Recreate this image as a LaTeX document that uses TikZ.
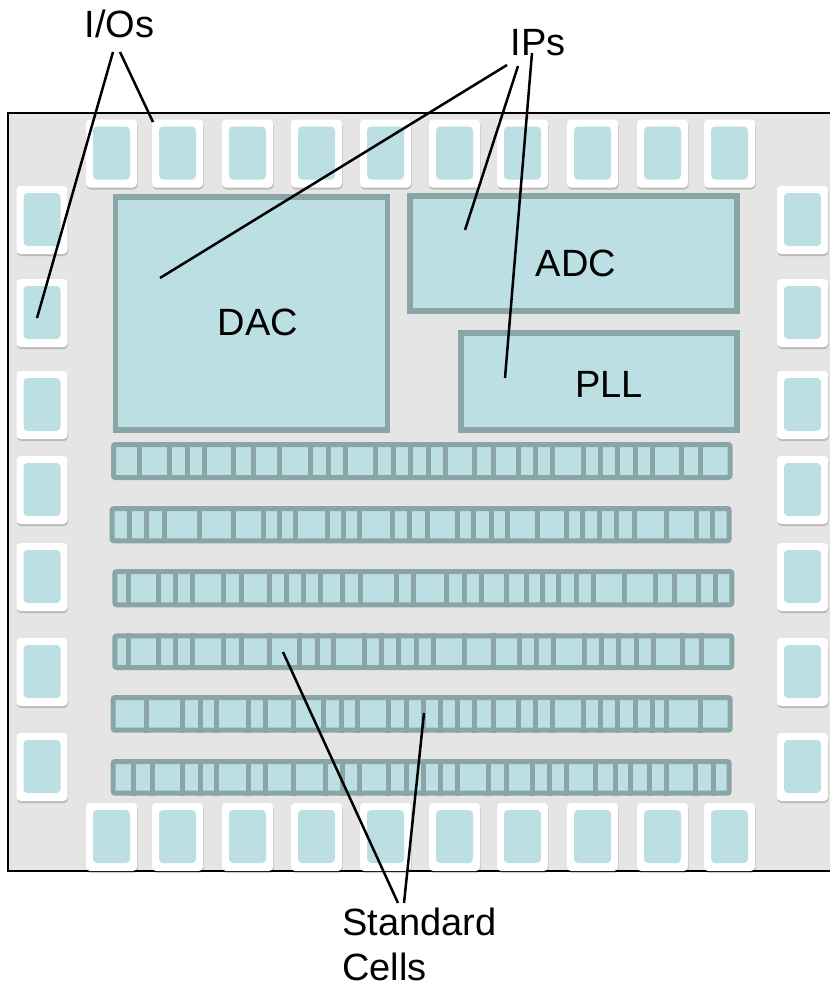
\documentclass[tikz,border=0pt]{standalone}
\usepackage{fontspec}
\setmainfont{Liberation Sans}
\usetikzlibrary{shadows}
\definecolor{chipgray}{HTML}{E5E5E5}
\definecolor{cellfill}{HTML}{BBDFE2}
\definecolor{celledge}{HTML}{8AA5A6}
\tikzset{
  padbox/.style={rectangle, rounded corners=4pt, fill=white, minimum width=51pt, minimum height=68pt, inner sep=0pt,
    drop shadow={shadow xshift=0.5pt, shadow yshift=-2pt, opacity=0.18, fill=black},
    path picture={\fill[cellfill] ([xshift=7pt,yshift=-7pt]path picture bounding box.north west) rectangle ([xshift=-7pt,yshift=8pt]path picture bounding box.south east);}},
  macrobox/.style={rectangle, fill=cellfill, draw=celledge, line width=5.5pt, inner sep=0pt},
  rowbox/.style={rectangle, rounded corners=2pt, fill=cellfill, draw=celledge, line width=5pt, inner sep=0pt},
  leader/.style={draw=black, line width=2.5pt},
  bigtext/.style={font=\fontsize{38}{45}\selectfont, inner sep=0pt, text=black},
}
\newcommand\stdrow[6]{%
  \pgfmathsetmacro\rw{#4-#2-5}\pgfmathsetmacro\rh{#5-#3-5}%
  \pgfmathsetmacro\rcx{(#2+#4)/2}\pgfmathsetmacro\rcy{(#3+#5)/2}%
  \node[rowbox, minimum width=\rw pt, minimum height=\rh pt] (#1) at (\rcx,\rcy) {};
  \foreach \d in {#6} {\fill[celledge] (\d-2.5,#3) rectangle (\d+2.5,#5);}
}
\begin{document}
\begin{tikzpicture}[x=1pt,y=-1pt]
\useasboundingbox (0,0) rectangle (830,994);
\clip (0,0) rectangle (830,994);
\fill[white] (0,0) rectangle (830,994);
\draw[line width=2pt, fill=chipgray] (8,113) rectangle (850,871);

% pads
\foreach \x [count=\i] in {86,152,222,291,360,429,497,567,637,704} {
  \node[padbox] (tp\i) at (\x+25.5,153.5) {};
  \node[padbox] (bp\i) at (\x+25.5,837) {};
}
\foreach \y [count=\i] in {186,279,371,456,543,638,733} {
  \node[padbox] (lp\i) at (42,\y+34) {};
  \node[padbox] (rp\i) at (802.5,\y+34) {};
}

% macros
\node[macrobox, minimum width=272pt, minimum height=233pt] (dac) at (251.5,313.5) {};
\node[macrobox, minimum width=327pt, minimum height=115pt] (adc) at (573.5,253.5) {};
\node[macrobox, minimum width=276pt, minimum height=97pt] (pll) at (599,381.5) {};
\node[bigtext, anchor=base] (dacl) at (258,335) {DAC};
\node[bigtext, anchor=base] (adcl) at (576,276) {ADC};
\node[bigtext, anchor=base] (plll) at (609,397) {PLL};

% standard cell rows
\stdrow{row1}{111}{442}{732.5}{480}{139,169.7,187.3,204.3,233.7,253,279.7,310.3,328.3,345,375.7,393.3,410.3,428.3,445,474.3,493.7,518.3,535.7,552.3,583.3,600.7,617.7,635.7,652.3,681.7,700.7}
\stdrow{row2}{109.5}{506}{731.7}{543.3}{129.8,146.7,164.7,199,233.7,263.2,279,295,327.2,343.7,359.2,392.5,409,427.2,457.8,473.2,491,507.7,537,566.5,582,599.5,616.5,634.5,666.5,696.8,712.7}
\stdrow{row3}{112.3}{569}{734.3}{607.3}{128.5,158,175.8,192.7,223.3,241.2,269.3,286,303.8,320.8,342.5,360,396.3,413.7,446,464.2,481.7,506.7,526,542,558.7,576.7,593.3,624.2,655.7,674,698.3,715}
\stdrow{row4}{112.3}{633.3}{734.3}{670}{128.5,158,175.8,192.7,223.3,241.2,269.3,299,317.5,333.8,364.5,381.8,398.8,416.2,433.2,464.2,493.5,519.2,536.8,553.7,584.3,601.7,618.8,636.7,653.3,682.8,701.8}
\stdrow{row5}{110.7}{695}{732.7}{732.7}{146.7,182.5,200.2,216.8,248.2,265.8,293.7,323.2,341.2,357.8,388.3,406.5,423.3,440.8,457.5,474.2,493.5,518,535.8,552.5,583.2,600.8,617.5,635.8,652.5,666.5,700.8}
\stdrow{row6}{110.7}{759}{731.7}{795.7}{133.5,152.7,182.5,200.2,216.8,248.2,265.8,293.7,325.5,342.5,359.2,388.3,406.5,423.3,440.8,457.5,488.5,506.2,532.2,549.8,566.5,595.8,615.2,630.8,649.2,666.5,695.8,713.5}

% labels
\node[bigtext, anchor=base] (ios) at (119.5,37) {I/Os};
\node[bigtext, anchor=base] (ips) at (538,55) {IPs};
\node[bigtext, anchor=north west, align=left] (stc) at (342,908) {Standard\\Cells};

% leader end points
\coordinate (io1s) at (113,52);  \coordinate (io1e) at (37,318);
\coordinate (io2s) at (120,52);  \coordinate (io2e) at (153,122);
\coordinate (ip1s) at (507,65);  \coordinate (ip1e) at (160,278);
\coordinate (ip2s) at (518,66);  \coordinate (ip2e) at (465,230);
\coordinate (ip3s) at (532,53);  \coordinate (ip3e) at (505,378);
\coordinate (sc1s) at (398,903); \coordinate (sc1e) at (283,652);
\coordinate (sc2s) at (404,903); \coordinate (sc2e) at (424,713);
\draw[leader] (io1s) -- (io1e);
\draw[leader] (io2s) -- (io2e);
\draw[leader] (ip1s) -- (ip1e);
\draw[leader] (ip2s) -- (ip2e);
\draw[leader] (ip3s) -- (ip3e);
\draw[leader] (sc1s) -- (sc1e);
\draw[leader] (sc2s) -- (sc2e);
\end{tikzpicture}
\end{document}
